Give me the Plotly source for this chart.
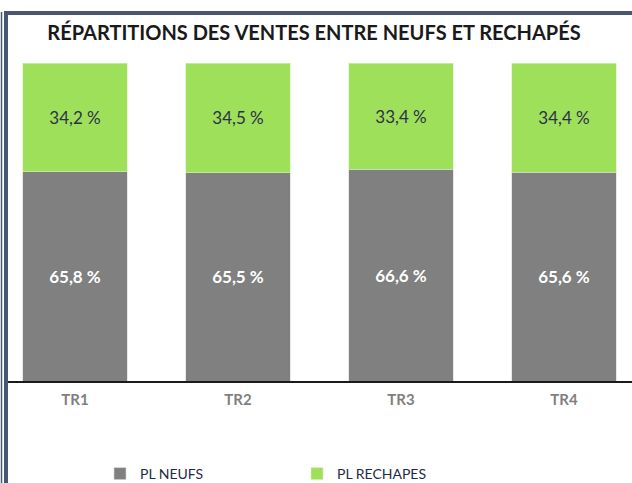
import plotly.graph_objects as go

categories = ["TR1", "TR2", "TR3", "TR4"]
neufs = [65.8, 65.5, 66.6, 65.6]
rechapes = [34.2, 34.5, 33.4, 34.4]
neufs_labels = ["65,8 %", "65,5 %", "66,6 %", "65,6 %"]
rechapes_labels = ["34,2 %", "34,5 %", "33,4 %", "34,4 %"]

W, H = 632, 483
L, R, T, B = 8, 0, 63, 102
pw = W - L - R
ph = H - T - B

def px(x):
    return (x - L) / pw

def py(y):
    return (H - B - y) / ph

FONT = "Lato, 'Open Sans', sans-serif"
FRAME = "#475771"

fig = go.Figure()
fig.add_trace(go.Bar(
    x=categories, y=neufs, name="PL NEUFS",
    marker=dict(color="#808080", line=dict(color="#d9d9d9", width=0.6)),
    text=neufs_labels, textposition="inside", insidetextanchor="middle",
    textfont=dict(color="white", size=17, family=FONT, weight="bold"),
    hoverinfo="skip",
))
fig.add_trace(go.Bar(
    x=categories, y=rechapes, name="PL RECHAPES",
    marker=dict(color="#9fe05a", line=dict(color="#d9f0c0", width=0.6)),
    text=rechapes_labels, textposition="inside", insidetextanchor="middle",
    textfont=dict(color="#2c3148", size=17, family=FONT),
    hoverinfo="skip",
))

shapes = [
    dict(type="line", xref="paper", yref="paper", x0=px(4), x1=px(634), y0=py(13), y1=py(13),
         line=dict(color=FRAME, width=4)),
    dict(type="line", xref="paper", yref="paper", x0=px(6), x1=px(6), y0=py(11), y1=py(490),
         line=dict(color=FRAME, width=4)),
    dict(type="line", xref="paper", yref="paper", x0=px(1.5), x1=px(1.5), y0=py(12), y1=py(490),
         line=dict(color=FRAME, width=1.5)),
]

fig.update_layout(
    width=W, height=H,
    margin=dict(l=L, r=R, t=T, b=B, pad=0, autoexpand=False),
    barmode="stack",
    bargap=0.36,
    paper_bgcolor="white",
    plot_bgcolor="white",
    title=dict(text="<b>RÉPARTITIONS DES VENTES ENTRE NEUFS ET RECHAPÉS</b>",
               x=px(318), xanchor="center", y=1 - 33 / H, yanchor="middle",
               font=dict(family=FONT, size=20, color="#1a1a1a")),
    xaxis=dict(range=[(L - 75) / 163, (W - 75) / 163], showline=True, linecolor="#1a1a1a",
               linewidth=2, ticks="outside", ticklen=4, tickcolor="rgba(0,0,0,0)",
               showgrid=False, fixedrange=True,
               tickfont=dict(family=FONT, size=15, color="#7f7f7f", weight="bold")),
    yaxis=dict(range=[0, 100], visible=False, showgrid=False, fixedrange=True),
    showlegend=True,
    legend=dict(orientation="h", x=px(100), xanchor="left", y=py(458), yanchor="top",
                entrywidth=152, entrywidthmode="pixels", traceorder="normal",
                font=dict(family=FONT, size=14, color="#1f2a4a"), bgcolor="rgba(0,0,0,0)"),
    shapes=shapes,
)

fig.write_html("out.html", config={"displayModeBar": False},
               post_script="document.body.style.margin='0';document.body.style.overflow='hidden';")
